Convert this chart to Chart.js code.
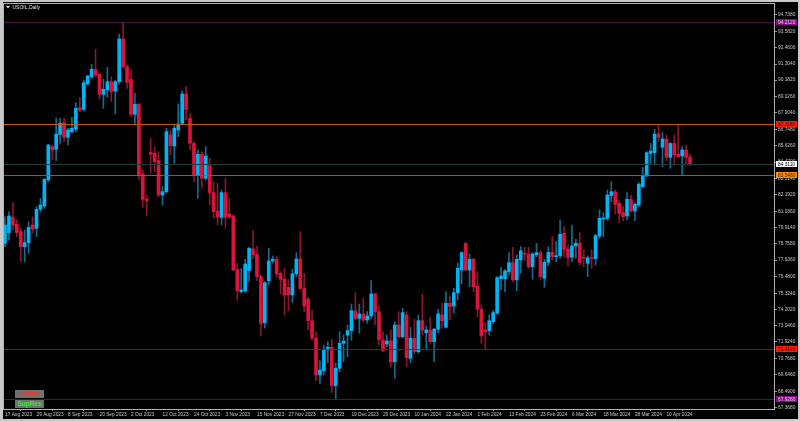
<!DOCTYPE html>
<html>
<head>
<meta charset="utf-8">
<title>USOIL,Daily</title>
<script src="https://cdn.jsdelivr.net/npm/chart.js@4.4.1/dist/chart.umd.min.js"></script>
<style>
  html, body { margin: 0; padding: 0; background: #000; }
  canvas { display: block; }
</style>
</head>
<body>
<canvas id="chart" width="800" height="421"></canvas>
<script>
// ---- data (one entry per daily bar) ----
const openP = [78.80,79.55,80.61,80.13,79.62,78.57,78.85,80.08,79.85,81.17,81.40,83.22,85.54,85.36,86.40,87.22,86.19,86.59,86.77,88.26,
  88.14,89.91,90.42,90.93,90.59,89.19,89.49,90.07,89.42,90.07,93.05,91.12,90.24,87.80,88.49,83.64,81.89,85.15,85.08,84.57,
  82.17,82.40,86.36,85.59,86.70,87.17,89.21,87.52,85.77,83.57,85.01,83.33,84.22,82.34,81.06,80.61,82.34,80.85,80.71,76.99,
  75.43,75.50,76.90,78.41,78.04,76.48,73.27,76.20,77.57,77.69,76.71,76.32,75.73,75.20,76.67,77.71,75.66,74.90,73.41,72.18,
  69.62,69.92,71.37,71.55,68.88,70.09,71.83,72.41,72.71,74.08,73.57,73.85,73.46,73.74,75.27,74.04,72.06,71.78,71.99,70.55,
  73.11,72.29,73.81,70.78,72.18,71.25,73.41,72.57,72.76,71.95,72.81,73.81,72.95,74.62,74.43,75.36,76.94,78.80,76.94,77.69,
  75.83,74.20,72.76,72.71,73.34,73.92,76.34,76.34,76.83,77.45,76.25,77.64,78.10,78.06,77.17,77.99,78.15,76.36,77.48,78.17,
  77.87,77.94,79.50,78.41,77.83,78.61,78.80,77.80,77.41,77.80,77.73,79.31,80.50,80.55,82.13,82.40,81.59,80.94,80.71,81.87,
  81.06,81.47,82.75,83.50,85.08,85.12,86.42,85.50,86.08,84.80,85.77,85.01,84.89,85.31,84.82];

const highP = [80.66,81.01,81.64,80.43,79.85,79.73,80.31,80.66,81.36,81.94,83.33,85.70,85.66,87.56,87.52,87.52,86.82,87.59,88.61,88.96,
  90.19,90.54,91.28,92.33,90.65,90.24,91.07,90.42,90.19,93.40,94.14,91.24,90.93,89.26,88.56,83.91,82.17,86.12,85.54,85.19,
  82.75,86.82,86.70,87.05,88.52,89.42,89.73,87.87,85.89,85.31,85.19,85.54,84.73,83.10,82.99,82.52,83.33,81.94,80.78,77.41,
  77.06,77.69,78.52,79.69,78.61,76.59,76.13,78.45,77.92,77.87,76.83,77.06,76.25,76.99,78.15,79.62,76.71,75.04,74.15,72.64,
  70.62,71.71,71.95,72.11,70.44,72.64,72.41,73.11,74.57,75.36,74.57,74.97,74.04,76.20,75.32,74.43,72.64,72.41,72.76,73.34,
  74.04,74.27,74.04,72.95,73.50,73.81,75.27,73.04,73.64,72.88,74.20,74.62,75.43,75.13,75.66,77.41,78.22,78.85,78.06,77.76,
  76.83,74.50,73.27,73.81,74.15,76.48,77.13,76.99,78.15,78.52,77.99,78.57,78.52,78.52,78.15,78.80,78.29,77.69,78.57,79.27,
  78.92,80.43,79.97,78.69,80.08,79.08,79.55,78.34,77.92,78.34,79.45,81.13,80.94,82.52,83.10,82.52,81.78,81.36,82.34,82.17,
  81.64,83.03,84.10,85.19,85.77,86.75,87.12,86.52,86.36,85.82,86.36,87.05,85.54,85.66,85.03];

const lowP = [78.57,79.03,79.73,79.27,77.52,77.52,78.10,79.51,79.27,81.01,81.24,83.10,84.61,84.57,85.77,85.89,85.66,86.47,86.59,87.98,
  88.05,89.84,90.31,90.42,88.84,88.21,88.98,88.68,87.82,89.91,91.00,89.61,87.63,87.05,83.22,81.31,80.71,83.68,83.80,82.06,
  81.47,82.29,84.96,84.38,86.24,87.05,87.40,85.31,83.10,81.94,82.64,83.22,81.47,80.55,80.08,80.08,79.85,80.55,76.90,74.85,
  75.32,75.36,76.13,77.69,76.20,72.34,72.88,75.90,77.46,76.48,75.27,73.81,74.08,74.67,76.48,75.55,74.04,72.76,72.06,69.23,
  69.00,69.62,70.48,68.39,67.93,69.85,70.55,70.90,72.06,73.46,72.53,73.34,73.23,73.57,73.11,71.71,71.25,71.60,70.16,69.39,
  72.18,72.18,70.20,70.48,71.09,71.13,72.41,71.37,71.83,70.55,72.53,72.88,72.88,73.46,73.92,74.85,75.97,76.90,75.78,75.43,
  73.69,71.83,71.41,72.41,73.18,73.88,75.55,75.43,76.59,76.13,75.50,76.71,77.59,77.06,76.29,77.87,76.29,75.73,77.22,77.64,
  77.52,77.76,77.87,77.22,77.52,77.76,77.29,77.13,76.48,77.06,77.29,79.15,79.27,80.43,81.71,80.85,80.24,80.38,80.43,80.96,
  80.38,81.36,82.71,83.45,84.33,84.26,85.89,84.15,84.57,84.03,84.26,84.80,83.57,84.26,84.19];

const closeP = [80.08,80.71,80.08,79.55,78.57,78.85,79.92,79.80,81.17,81.47,83.26,85.66,85.31,86.42,87.17,86.19,86.70,86.82,88.21,88.10,
  90.00,90.47,90.93,90.54,89.19,89.54,90.07,89.38,90.07,93.05,91.12,90.03,87.80,88.49,83.57,81.87,81.78,85.03,84.50,82.17,
  82.40,86.59,85.61,86.82,87.12,89.21,88.14,85.77,83.57,85.01,83.33,84.89,82.34,81.01,80.66,82.34,80.61,80.66,76.94,75.50,
  75.55,77.36,78.45,77.99,76.48,73.23,76.06,77.57,77.69,76.67,76.29,75.20,75.20,76.67,77.71,75.66,74.43,73.41,72.18,69.62,
  69.97,71.37,71.55,68.88,70.09,71.83,71.99,72.71,74.11,73.57,73.88,73.46,73.74,75.27,74.04,72.06,71.32,71.99,70.55,73.11,
  72.29,73.97,70.83,72.18,71.25,73.41,72.76,72.76,71.95,72.81,73.88,73.41,74.62,74.39,75.36,77.06,78.15,76.94,77.69,75.78,
  74.20,72.34,72.64,73.41,73.97,76.41,76.52,76.87,77.45,76.25,77.69,78.29,78.04,77.17,78.06,78.15,76.48,77.48,78.17,77.87,
  77.94,79.43,78.38,77.83,78.61,78.80,77.48,77.76,77.80,77.73,79.34,80.55,80.55,82.17,82.40,81.52,80.89,80.66,81.87,81.06,
  81.52,82.92,83.52,85.12,85.24,86.42,86.19,86.08,84.80,85.77,84.96,84.84,85.31,84.80,84.31];

// date labels, one every 8 bars starting at bar 1
const dateLabels = ["17 Aug 2023","29 Aug 2023","8 Sep 2023","20 Sep 2023","2 Oct 2023","12 Oct 2023","24 Oct 2023",
  "3 Nov 2023","15 Nov 2023","27 Nov 2023","7 Dec 2023","19 Dec 2023","29 Dec 2023","10 Jan 2024","22 Jan 2024",
  "1 Feb 2024","13 Feb 2024","23 Feb 2024","6 Mar 2024","18 Mar 2024","28 Mar 2024","10 Apr 2024"];

// price scale labels
const priceTicks = [94.7380,93.5820,92.4600,91.3040,90.1820,89.0260,87.9040,86.7480,85.6260,84.4700,83.3140,82.1920,
  81.0360,79.9140,78.7580,77.6360,76.4800,75.3240,74.2020,73.0460,71.9240,70.7680,69.6460,68.4900,67.3680];

// horizontal levels (pivot / support-resistance / current price)
const levelValues = [94.2120, 87.1180, 84.3110, 83.5480, 71.4140, 67.9280];
const levelLineColors = ['#4a1040', '#c4580e', '#1f3b3b', '#9a5a12', '#8e1010', '#52105a'];
const levelBoxColors = ['#8a0a8a', '#ff1a00', '#ffffff', '#ff8c00', '#ff1a00', '#8a0a8a'];
const levelTextColors = ['#d8d8d8', '#300000', '#000000', '#301800', '#300000', '#d8d8d8'];

const BULL = '#00b4f5', BEAR = '#dc143c';
const BULL_WICK = '#126c8e', BEAR_WICK = '#8a1630';
const AXIS = '#9a9a9a', TEXT = '#c8c8c8';
const FONT = 'Liberation Sans';

const barNo = openP.map((_, i) => i + 1);
const isBull = i => closeP[i] >= openP[i];

const wickData = barNo.map((k, i) => ({ x: k, y: [lowP[i], highP[i]] }));
const bodyData = barNo.map((k, i) => ({ x: k, y: [openP[i], closeP[i]] }));

// ==============================
// OVERLAY: levels, price boxes, title, buttons
// ==============================
const mtOverlay = {
    id: 'mtOverlay',
    beforeDraw(chart) {
        const c = chart.ctx;
        c.save();
        c.fillStyle = '#000';
        c.fillRect(0, 0, chart.width, chart.height);
        c.restore();
    },
    afterDatasetsDraw(chart) {
        const c = chart.ctx;
        const a = chart.chartArea;
        const y = chart.scales.y;
        c.save();
        c.beginPath();
        c.rect(a.left, a.top, a.right - a.left, a.bottom - a.top);
        c.clip();
        levelValues.forEach((v, i) => {
            const py = Math.round(y.getPixelForValue(v)) + 0.5;
            c.strokeStyle = levelLineColors[i];
            c.lineWidth = 1;
            c.beginPath();
            c.moveTo(a.left, py);
            c.lineTo(a.right, py);
            c.stroke();
        });
        c.restore();
    },
    afterDraw(chart) {
        const c = chart.ctx;
        const a = chart.chartArea;
        const y = chart.scales.y;
        c.save();

        // price boxes on the right scale
        c.font = `4.8px "${FONT}"`;
        c.textBaseline = 'middle';
        c.textAlign = 'left';
        levelValues.forEach((v, i) => {
            const py = Math.round(y.getPixelForValue(v));
            c.fillStyle = levelBoxColors[i];
            c.fillRect(a.right + 2, py - 3, 21, 6);
            c.fillStyle = levelTextColors[i];
            c.fillText(v.toFixed(4), a.right + 4, py + 0.5);
        });

        // symbol title
        c.fillStyle = '#e0e0e0';
        c.beginPath();
        c.moveTo(6, 6);
        c.lineTo(10, 6);
        c.lineTo(8, 8.5);
        c.closePath();
        c.fill();
        c.font = `5px "${FONT}"`;
        c.fillText('USOIL,Daily', 12.5, 7.5);

        // Pivot / SupRes buttons
        c.fillStyle = '#707070';
        c.fillRect(15, 390, 29, 8);
        c.fillRect(15, 400, 29, 8);
        c.textAlign = 'center';
        c.font = `bold 6.5px "${FONT}"`;
        c.fillStyle = '#ff3030';
        c.fillText('Pivot', 29.5, 394.3);
        c.fillStyle = '#36f036';
        c.fillText('SupRes', 29.5, 404.3);

        // window frame
        c.strokeStyle = '#b0b0b0';
        c.lineWidth = 1;
        c.strokeRect(a.left - 0.5, a.top - 0.5, a.right - a.left + 1, a.bottom - a.top + 1);
        c.fillStyle = '#c8c8c8';
        c.fillRect(0, 0, 3, chart.height);
        c.fillRect(0, 0, chart.width, 2);
        c.fillRect(0, chart.height - 2, chart.width, 2);
        c.fillRect(chart.width - 2, 0, 2, chart.height);
        c.restore();
    }
};

new Chart(document.getElementById('chart'), {
    type: 'bar',
    data: {
        datasets: [
            {
                label: 'body',
                data: bodyData,
                order: 0,
                grouped: false,
                barThickness: 3,
                minBarLength: 1,
                backgroundColor: ctx => isBull(ctx.dataIndex) ? BULL : BEAR,
                borderWidth: 0
            },
            {
                label: 'wick',
                data: wickData,
                order: 1,
                grouped: false,
                barThickness: 1,
                backgroundColor: ctx => isBull(ctx.dataIndex) ? BULL_WICK : BEAR_WICK,
                borderWidth: 0
            }
        ]
    },
    options: {
        responsive: false,
        animation: false,
        events: [],
        layout: { padding: { left: 4, top: 4, right: 0, bottom: 0 } },
        plugins: { legend: { display: false }, tooltip: { enabled: false } },
        scales: {
            x: {
                type: 'linear',
                offset: false,
                min: 0.746,
                max: 196.33,
                afterBuildTicks: s => { s.ticks = dateLabels.map((_, j) => ({ value: 1 + 8 * j })); },
                afterFit: s => { s.height = 12; },
                ticks: {
                    autoSkip: false,
                    maxRotation: 0,
                    align: 'start',
                    padding: 1,
                    color: TEXT,
                    font: { family: FONT, size: 4.8 },
                    callback: (v, i) => dateLabels[i]
                },
                grid: { drawOnChartArea: false, color: AXIS, tickLength: 2 },
                border: { color: AXIS }
            },
            y: {
                type: 'linear',
                position: 'right',
                min: 67.25,
                max: 95.49,
                afterBuildTicks: s => { s.ticks = priceTicks.map(v => ({ value: v })); },
                afterFit: s => { s.width = 26; },
                ticks: {
                    autoSkip: false,
                    padding: 1,
                    color: TEXT,
                    font: { family: FONT, size: 4.8 },
                    callback: v => v.toFixed(4)
                },
                grid: { drawOnChartArea: false, color: AXIS, tickLength: 3 },
                border: { color: AXIS }
            }
        }
    },
    plugins: [mtOverlay]
});
</script>
</body>
</html>
